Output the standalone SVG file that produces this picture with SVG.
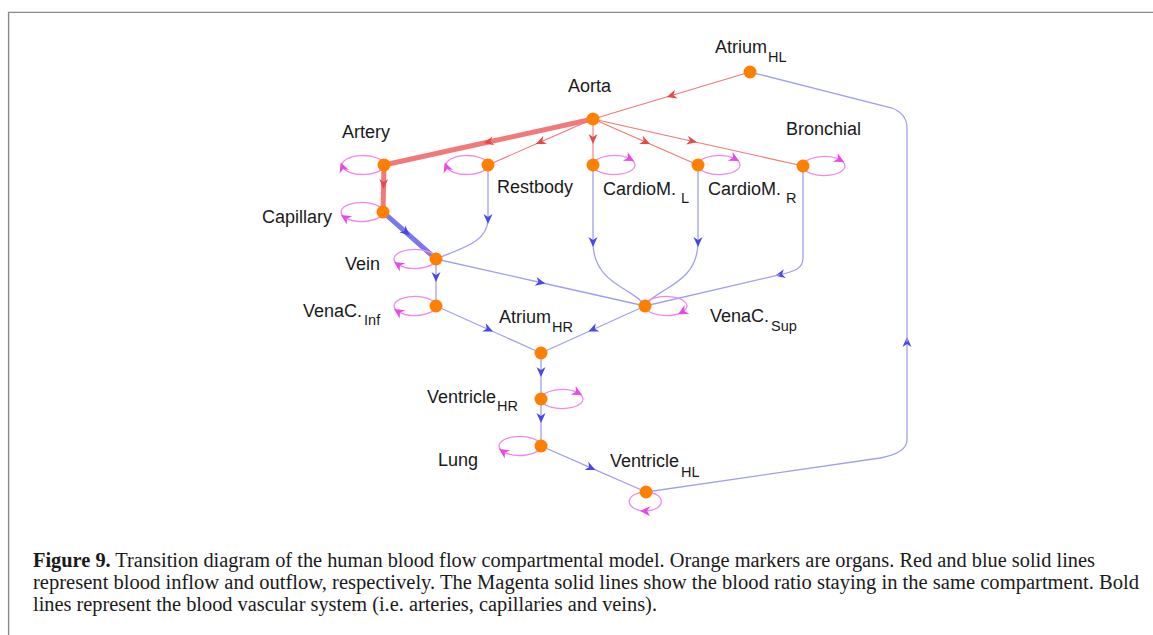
<svg xmlns="http://www.w3.org/2000/svg" width="1153" height="635" viewBox="0 0 1153 635">
<defs>
<style>
.lbl{font-family:"Liberation Sans",Arial,sans-serif;font-size:18px;fill:#1a1a1a}
.sub{font-size:14.5px}
.cap{font-family:"Liberation Serif","Times New Roman",serif;font-size:20px;fill:#1a1a1a}
.red{fill:none;stroke:#f07878;stroke-width:1.1}
.redB{fill:none;stroke:#f06a6a;stroke-width:5;stroke-opacity:0.9}
.blue{fill:none;stroke:#a0a0f0;stroke-width:1.3}
.blueB{fill:none;stroke:#6a6aec;stroke-width:5;stroke-opacity:0.9}
.loop{fill:none;stroke:#ee88ee;stroke-width:1.3}
.node{fill:#ff8000}
</style>
<marker id="ar" markerUnits="userSpaceOnUse" markerWidth="20" markerHeight="20" refX="0" refY="0" viewBox="-10 -10 20 20" orient="auto" overflow="visible">
<path d="M5,0 L-5,-4.5 L-2,0 L-5,4.5 Z" fill="#e84848"/>
</marker>
<marker id="ab" markerUnits="userSpaceOnUse" markerWidth="20" markerHeight="20" refX="0" refY="0" viewBox="-10 -10 20 20" orient="auto" overflow="visible">
<path d="M5,0 L-5,-4.5 L-2,0 L-5,4.5 Z" fill="#4848e8"/>
</marker>
<marker id="am" markerUnits="userSpaceOnUse" markerWidth="20" markerHeight="20" refX="0" refY="0" viewBox="-10 -10 20 20" orient="auto" overflow="visible">
<path d="M4.5,0 L-5.5,-5 L-2.5,0 L-5.5,5 Z" fill="#e848e8"/>
</marker>
</defs>
<rect width="1153" height="635" fill="#ffffff"/>
<path d="M8.6,635 L8.6,12.4 L1153,12.4" fill="none" stroke="#8a8a8a" stroke-width="1.4"/>

<g id="connectors">
<path class="red" d="M750,72 L671.5,95.5 L593,119" marker-mid="url(#ar)"/>
<path class="redB" d="M593,119 L488.5,142 L384,165" marker-mid="url(#ar)"/>
<path class="red" d="M593,119 L540.5,142 L488,165" marker-mid="url(#ar)"/>
<path class="red" d="M593,119 L593,139 L593,165" marker-mid="url(#ar)"/>
<path class="red" d="M593,119 L645.5,142 L698,165" marker-mid="url(#ar)"/>
<path class="red" d="M593,119 L692,141.2 L803,166" marker-mid="url(#ar)"/>
<path class="redB" d="M384,165 L383.6,184 L383,212" marker-mid="url(#ar)"/>
<path class="blueB" d="M383,212 L406,232.3 L436,259" marker-mid="url(#ab)"/>
<path class="blue" d="M488,165 L488,219 C488,242 462,248 436,259" marker-mid="url(#ab)"/>
<path class="blue" d="M436,259 L436,277 L436,306" marker-mid="url(#ab)"/>
<path class="blue" d="M436,259 L540.5,282.5 L645,306" marker-mid="url(#ab)"/>
<path class="blue" d="M593,165 L593,242 C593,285 635,288 645,306" marker-mid="url(#ab)"/>
<path class="blue" d="M698,165 L698,242 C698,285 655,288 645,306" marker-mid="url(#ab)"/>
<path class="blue" d="M803,166 L803,258 C803,268 796,271 780,274.7" marker-end="url(#ab)"/>
<path class="blue" d="M780,274.7 L645,306"/>
<path class="blue" d="M436,306 L488.5,329.5 L541,353" marker-mid="url(#ab)"/>
<path class="blue" d="M645,306 L593,329.5 L541,353" marker-mid="url(#ab)"/>
<path class="blue" d="M541,353 L541,372 L541,399" marker-mid="url(#ab)"/>
<path class="blue" d="M541,399 L541,418 L541,446" marker-mid="url(#ab)"/>
<path class="blue" d="M541,446 L591,467.9 L646,492" marker-mid="url(#ab)"/>
<path class="blue" d="M646,492 L880,458 Q907,453 907,440 L907,342" marker-end="url(#ab)"/>
<path class="blue" d="M907,342 L907,128 Q907,114 892,108 L750,72"/>
<!-- self loops -->
<path class="loop" d="M384,165 A21,9.5 0 0 1 342.3,166.6 A21,9.5 0 1 1 384,165" marker-mid="url(#am)"/>
<path class="loop" d="M488,165 A21,9.5 0 0 1 446.3,166.6 A21,9.5 0 1 1 488,165" marker-mid="url(#am)"/>
<path class="loop" d="M593,165 A21,9.5 0 0 1 630.1,158.9 A21,9.5 0 1 1 593,165" marker-mid="url(#am)"/>
<path class="loop" d="M698,165 A21,9.5 0 0 1 735.1,158.9 A21,9.5 0 1 1 698,165" marker-mid="url(#am)"/>
<path class="loop" d="M803,166 A21,9.5 0 0 1 840.1,159.9 A21,9.5 0 1 1 803,166" marker-mid="url(#am)"/>
<path class="loop" d="M383,212 A21,9.5 0 0 1 344.8,217.4 A21,9.5 0 1 1 383,212" marker-mid="url(#am)"/>
<path class="loop" d="M436,259 A21,9.5 0 0 1 397.8,264.4 A21,9.5 0 1 1 436,259" marker-mid="url(#am)"/>
<path class="loop" d="M436,306 A21,9.5 0 0 1 397.8,311.4 A21,9.5 0 1 1 436,306" marker-mid="url(#am)"/>
<path class="loop" d="M645,306 A21,9.5 0 1 1 682.1,312.1 A21,9.5 0 0 1 645,306" marker-mid="url(#am)"/>
<path class="loop" d="M541,399 A21,9.5 0 0 1 578.1,392.9 A21,9.5 0 1 1 541,399" marker-mid="url(#am)"/>
<path class="loop" d="M541,446 A21,9.5 0 0 1 502.8,451.4 A21,9.5 0 1 1 541,446" marker-mid="url(#am)"/>
<path class="loop" d="M646,492 A16,9.5 0 1 1 644.6,511 A16,9.5 0 0 1 646,492" marker-mid="url(#am)"/>
</g>

<g id="atrium-hl"><circle class="node" cx="750" cy="72" r="6.5"/><text class="lbl" x="715" y="53">Atrium<tspan class="sub" dx="1" dy="9">HL</tspan></text></g>
<g id="aorta"><circle class="node" cx="593" cy="119" r="6.5"/><text class="lbl" x="568" y="92">Aorta</text></g>
<g id="artery"><circle class="node" cx="384" cy="165" r="6.5"/><text class="lbl" x="342" y="138">Artery</text></g>
<g id="restbody"><circle class="node" cx="488" cy="165" r="6.5"/><text class="lbl" x="497" y="193">Restbody</text></g>
<g id="cardiom-l"><circle class="node" cx="593" cy="165" r="6.5"/><text class="lbl" x="603" y="195">CardioM.<tspan class="sub" dx="5" dy="8">L</tspan></text></g>
<g id="cardiom-r"><circle class="node" cx="698" cy="165" r="6.5"/><text class="lbl" x="708" y="195">CardioM.<tspan class="sub" dx="5" dy="8">R</tspan></text></g>
<g id="bronchial"><circle class="node" cx="803" cy="166" r="6.5"/><text class="lbl" x="786" y="135">Bronchial</text></g>
<g id="capillary"><circle class="node" cx="383" cy="212" r="6.5"/><text class="lbl" x="332" y="223" text-anchor="end">Capillary</text></g>
<g id="vein"><circle class="node" cx="436" cy="259" r="6.5"/><text class="lbl" x="345" y="270">Vein</text></g>
<g id="venac-inf"><circle class="node" cx="436" cy="306" r="6.5"/><text class="lbl" x="303" y="317">VenaC.<tspan class="sub" dx="2" dy="8">Inf</tspan></text></g>
<g id="venac-sup"><circle class="node" cx="645" cy="306" r="6.5"/><text class="lbl" x="710" y="322">VenaC.<tspan class="sub" dx="2" dy="9">Sup</tspan></text></g>
<g id="atrium-hr"><circle class="node" cx="541" cy="353" r="6.5"/><text class="lbl" x="499" y="323">Atrium<tspan class="sub" dx="1" dy="9">HR</tspan></text></g>
<g id="ventricle-hr"><circle class="node" cx="541" cy="399" r="6.5"/><text class="lbl" x="427" y="403">Ventricle<tspan class="sub" dx="1" dy="8">HR</tspan></text></g>
<g id="lung"><circle class="node" cx="541" cy="446" r="6.5"/><text class="lbl" x="438" y="466">Lung</text></g>
<g id="ventricle-hl"><circle class="node" cx="646" cy="492" r="6.5"/><text class="lbl" x="610" y="467">Ventricle<tspan class="sub" dx="2" dy="10">HL</tspan></text></g>

<g id="caption">
<text class="cap" x="33" y="567" textLength="1062" lengthAdjust="spacingAndGlyphs"><tspan font-weight="bold">Figure 9.</tspan> Transition diagram of the human blood flow compartmental model. Orange markers are organs. Red and blue solid lines</text>
<text class="cap" x="33" y="589" textLength="1106" lengthAdjust="spacingAndGlyphs">represent blood inflow and outflow, respectively. The Magenta solid lines show the blood ratio staying in the same compartment. Bold</text>
<text class="cap" x="33" y="611" textLength="624" lengthAdjust="spacingAndGlyphs">lines represent the blood vascular system (i.e. arteries, capillaries and veins).</text>
</g>
</svg>
